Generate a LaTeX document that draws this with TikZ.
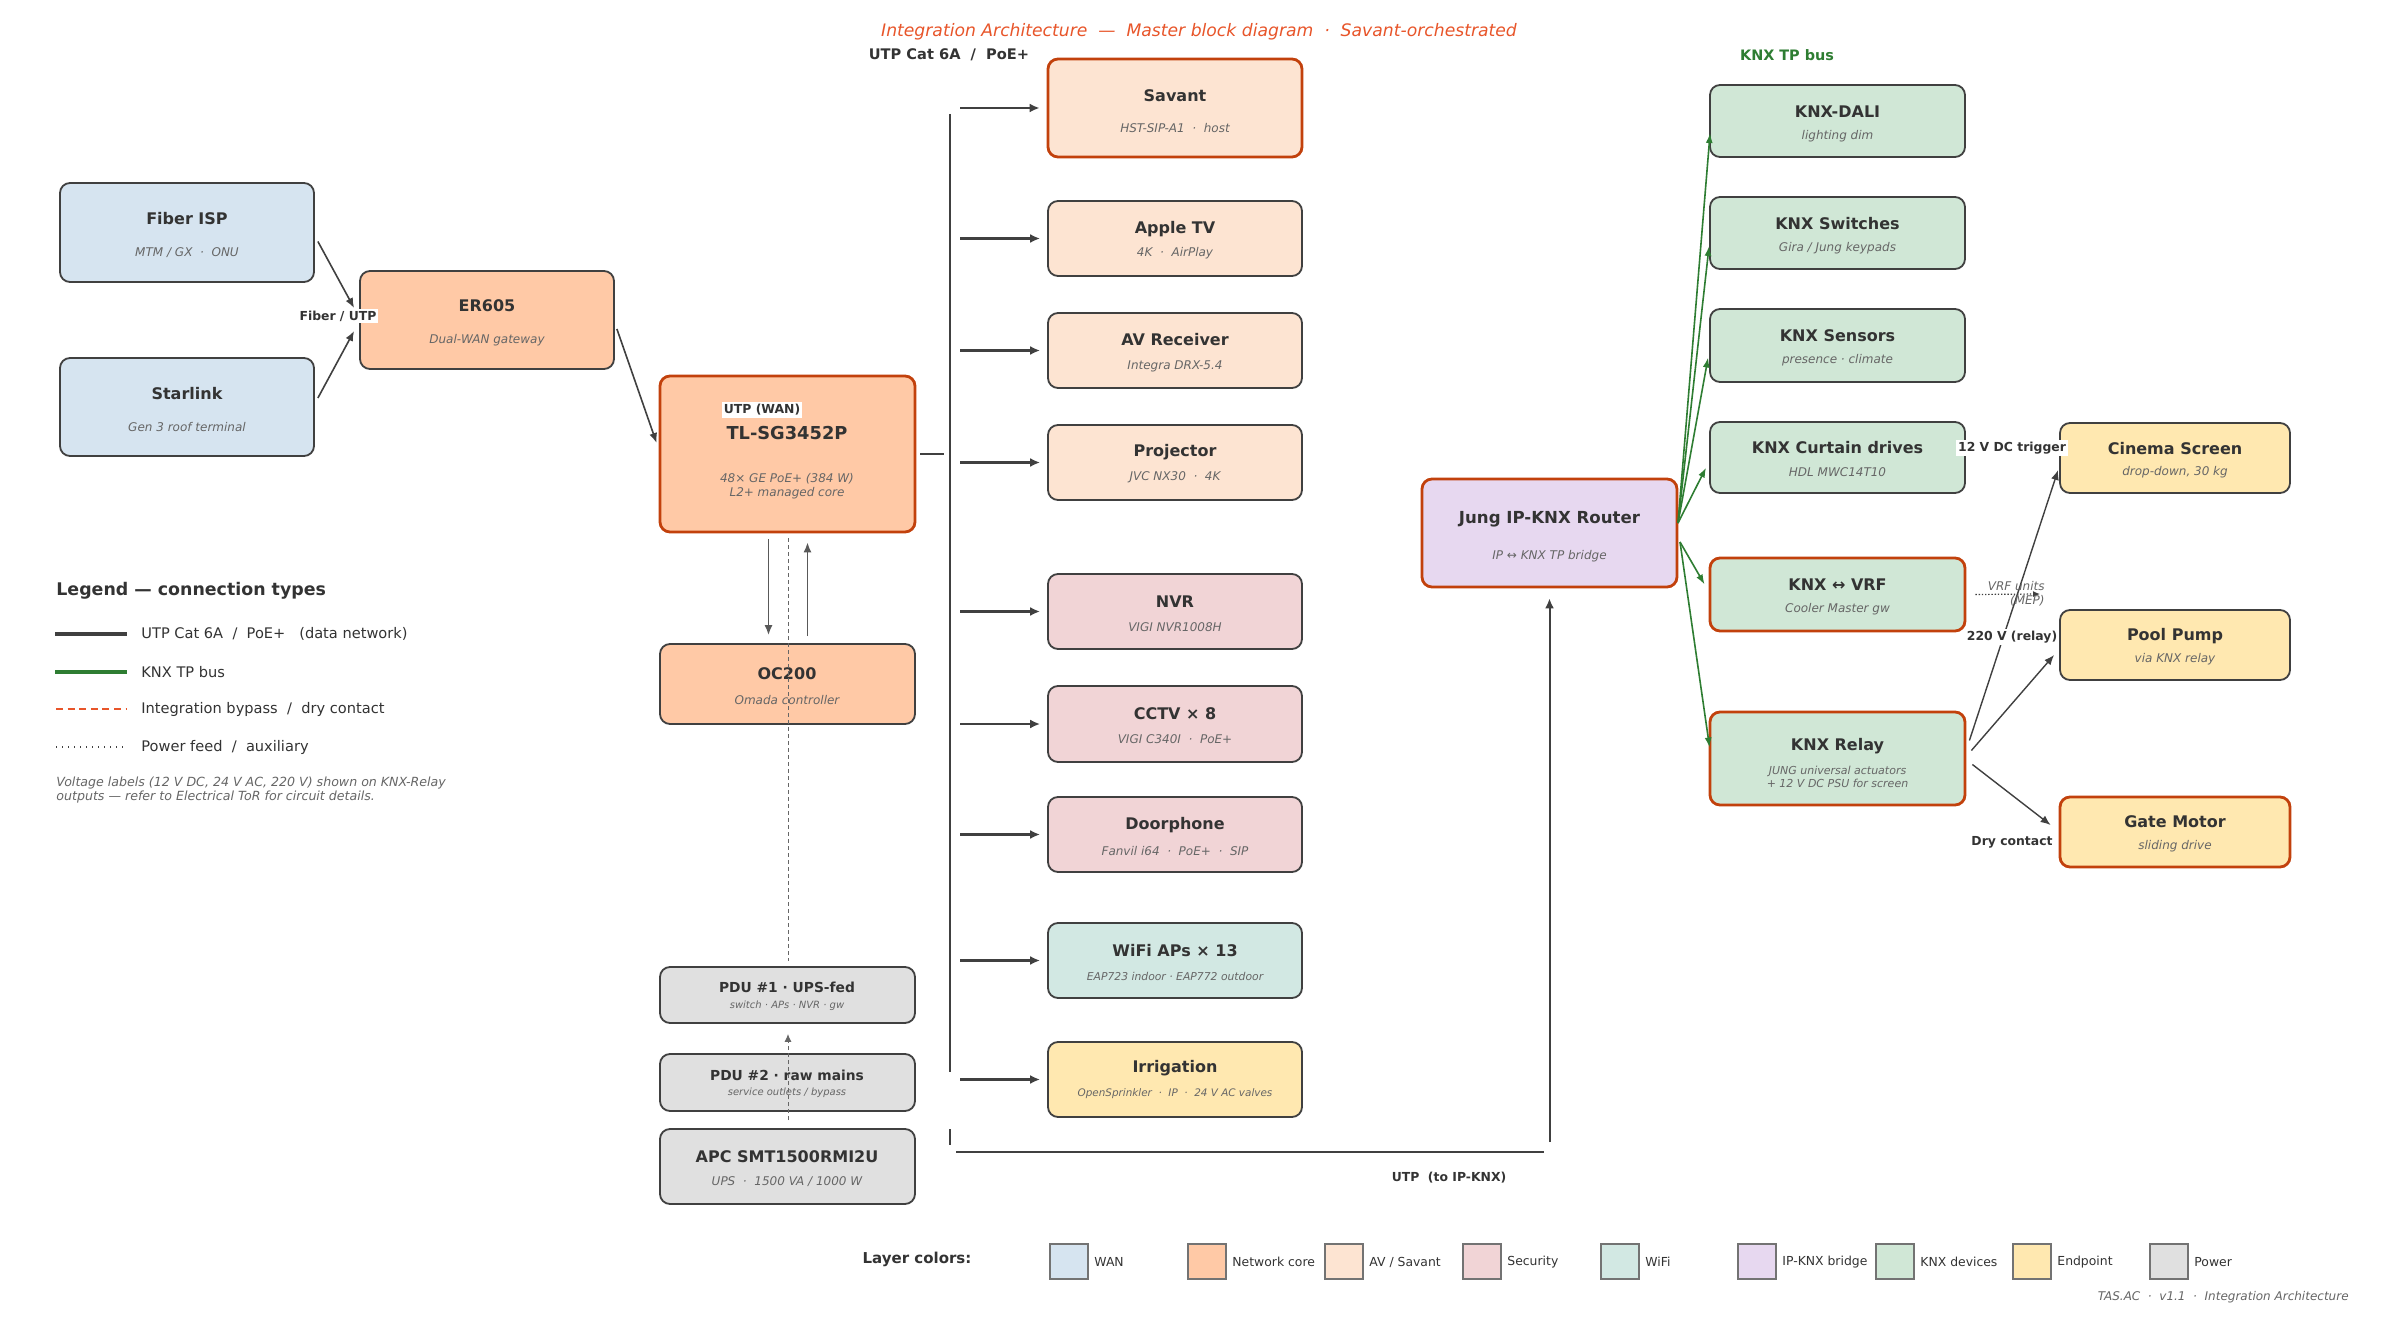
\documentclass[tikz,border=0pt]{standalone}
\usepackage{fontspec}
\setmainfont{DejaVu Sans}
\usetikzlibrary{arrows.meta}
\definecolor{edge}{HTML}{404040}
\definecolor{hotedge}{HTML}{C2410C}
\definecolor{txt}{HTML}{333333}
\definecolor{subtxt}{HTML}{666666}
\definecolor{titlec}{HTML}{E8552A}
\definecolor{knxg}{HTML}{2E7D32}
\definecolor{wan}{HTML}{D6E4F0}
\definecolor{core}{HTML}{FFC9A6}
\definecolor{av}{HTML}{FDE4D2}
\definecolor{sec}{HTML}{F1D4D6}
\definecolor{wifi}{HTML}{D2E8E3}
\definecolor{ipknx}{HTML}{E7D8F0}
\definecolor{knx}{HTML}{D0E7D6}
\definecolor{endp}{HTML}{FFE8B0}
\definecolor{pow}{HTML}{E0E0E0}
\newcommand\bx[7]{\node[box,fill=#2,#7,minimum width={(#5-#3)*0.5pt},minimum height={(#6-#4)*0.5pt}] (#1) at ({(#3+#5)/2},{(#4+#6)/2}) {};}
\newcommand\sep{\unskip\ \ ·\ \ \ignorespaces}
\newcommand\dsl{\unskip\ \ /\ \ \ignorespaces}
\begin{document}
\begin{tikzpicture}[x=0.5pt,y=-0.5pt,
  box/.style={draw=edge,line width=0.9pt,rounded corners=5pt,inner sep=0pt},
  hot/.style={draw=hotedge,line width=1.4pt},
  ttl/.style={font=\bfseries\fontsize{8}{9.6}\selectfont,text=txt,inner sep=0pt},
  ttls/.style={font=\bfseries\fontsize{6.9}{8.2}\selectfont,text=txt,inner sep=0pt},
  sub/.style={font=\itshape\fontsize{6}{7}\selectfont,text=subtxt,inner sep=0pt,align=center},
  subs/.style={font=\itshape\fontsize{5}{6}\selectfont,text=subtxt,inner sep=0pt},
  elab/.style={font=\bfseries\fontsize{6.2}{7.4}\selectfont,text=txt,fill=white,inner sep=1pt},
  net/.style={draw=edge,line width=1.2pt},
  netarr/.style={net,-{Latex[length=5pt,width=4.5pt]},shorten >=3.5pt},
  darr/.style={draw=edge,line width=0.8pt,-{Latex[length=5pt,width=4pt]}},
  garr/.style={draw=knxg,line width=0.8pt,-{Latex[length=5pt,width=3.5pt]}},
  leg/.style={font=\fontsize{7.3}{8.8}\selectfont,text=txt,anchor=west,inner sep=0pt},
  swatch/.style={draw=black!55,line width=0.6pt,minimum width=19pt,minimum height=17.5pt,inner sep=0pt},
  swl/.style={font=\fontsize{6.2}{7.4}\selectfont,text=txt,anchor=west,inner sep=0pt}]
\useasboundingbox[fill=white] (0,0) rectangle (2400,1326);

% title and headers
\node[font=\itshape\fontsize{8.6}{10.3}\selectfont,text=titlec] (title) at (1199,32) {Integration Architecture\ \ —\ \ Master block diagram \sep Savant-orchestrated};
\node[font=\bfseries\fontsize{7.3}{8.8}\selectfont,text=txt] (hdrutp) at (949,55) {UTP Cat 6A \dsl PoE+};
\node[font=\bfseries\fontsize{7.2}{8.6}\selectfont,text=knxg] (hdrknx) at (1787,55) {KNX TP bus};

% WAN + core
\bx{fiber}{wan}{60}{183}{314}{282}{}
\node[ttl] (fiberT) at (187,219) {Fiber ISP};
\node[sub] (fiberS) at (187,253) {MTM / GX \sep ONU};
\bx{star}{wan}{60}{358}{314}{456}{}
\node[ttl] (starT) at (187,394) {Starlink};
\node[sub] (starS) at (187,427) {Gen 3 roof terminal};
\bx{er}{core}{360}{271}{614}{369}{}
\node[ttl] (erT) at (487,306) {ER605};
\node[sub] (erS) at (487,340) {Dual-WAN gateway};
\bx{sw}{core}{660}{376}{915}{532}{hot}
\node[ttl,font=\bfseries\fontsize{8.9}{10.6}\selectfont] (swT) at (787,433) {TL-SG3452P};
\node[sub] (swS) at (787,486) {48× GE PoE+ (384 W)\\L2+ managed core};
\bx{oc}{core}{660}{644}{915}{724}{}
\node[ttl] (ocT) at (787,674) {OC200};
\node[sub] (ocS) at (787,700) {Omada controller};
\bx{pdua}{pow}{660}{967}{915}{1023}{}
\node[ttls] (pduaT) at (787,987) {PDU \#1 · UPS-fed};
\node[subs] (pduaS) at (787,1006) {switch · APs · NVR · gw};
\bx{pdub}{pow}{660}{1054}{915}{1111}{}
\node[ttls] (pdubT) at (787,1075) {PDU \#2 · raw mains};
\node[subs] (pdubS) at (787,1093) {service outlets / bypass};
\bx{apc}{pow}{660}{1129}{915}{1204}{}
\node[ttl] (apcT) at (787,1157) {APC SMT1500RMI2U};
\node[sub] (apcS) at (787,1182) {UPS \sep 1500 VA / 1000 W};

% AV / security / wifi column
\bx{savant}{av}{1048}{59}{1302}{157}{hot}
\node[ttl] at (1175,96) (savantT) {Savant};
\node[sub] at (1175,128) (savantS) {HST-SIP-A1 \sep host};
\bx{atv}{av}{1048}{201}{1302}{276}{}
\node[ttl] at (1175,229) (atvT) {Apple TV};
\node[sub] at (1175,253) (atvS) {4K \sep AirPlay};
\bx{avr}{av}{1048}{313}{1302}{388}{}
\node[ttl] at (1175,340) (avrT) {AV Receiver};
\node[sub] at (1175,366) (avrS) {Integra DRX-5.4};
\bx{proj}{av}{1048}{425}{1302}{500}{}
\node[ttl] at (1175,452) (projT) {Projector};
\node[sub] at (1175,477) (projS) {JVC NX30 \sep 4K};
\bx{nvr}{sec}{1048}{574}{1302}{649}{}
\node[ttl] at (1175,602) (nvrT) {NVR};
\node[sub] at (1175,627) (nvrS) {VIGI NVR1008H};
\bx{cctv}{sec}{1048}{686}{1302}{762}{}
\node[ttl] at (1175,714) (cctvT) {CCTV × 8};
\node[sub] at (1175,739) (cctvS) {VIGI C340I \sep PoE+};
\bx{door}{sec}{1048}{797}{1302}{872}{}
\node[ttl] at (1175,825) (doorT) {Doorphone};
\node[sub] at (1175,851) (doorS) {Fanvil i64 \sep PoE+ \sep SIP};
\bx{wifi}{wifi}{1048}{923}{1302}{998}{}
\node[ttl] at (1175,951) (wifiT) {WiFi APs × 13};
\node[sub,font=\itshape\fontsize{5.4}{6.4}\selectfont] at (1175,976) (wifiS) {EAP723 indoor · EAP772 outdoor};
\bx{irr}{endp}{1048}{1042}{1302}{1117}{}
\node[ttl] at (1175,1068) (irrT) {Irrigation};
\node[sub,font=\itshape\fontsize{5.2}{6.2}\selectfont] at (1175,1094) (irrS) {OpenSprinkler \sep IP \sep 24 V AC valves};

% router
\bx{router}{ipknx}{1422}{479}{1677}{587}{hot}
\node[ttl,font=\bfseries\fontsize{8.3}{10}\selectfont] at (1549.5,519) (routerT) {Jung IP-KNX Router};
\node[sub] at (1549.5,556) (routerS) {IP ↔ KNX TP bridge};

% KNX column
\bx{dali}{knx}{1710}{85}{1965}{157}{}
\node[ttl] at (1837.5,112) (daliT) {KNX-DALI};
\node[sub] at (1837.5,136) (daliS) {lighting dim};
\bx{ksw}{knx}{1710}{197}{1965}{269}{}
\node[ttl] at (1837.5,224) (kswT) {KNX Switches};
\node[sub] at (1837.5,248) (kswS) {Gira / Jung keypads};
\bx{ksen}{knx}{1710}{309}{1965}{382}{}
\node[ttl] at (1837.5,336) (ksenT) {KNX Sensors};
\node[sub] at (1837.5,360) (ksenS) {presence · climate};
\bx{kcur}{knx}{1710}{422}{1965}{493}{}
\node[ttl] at (1837.5,448) (kcurT) {KNX Curtain drives};
\node[sub] at (1837.5,472) (kcurS) {HDL MWC14T10};
\bx{kvrf}{knx}{1710}{558}{1965}{631}{hot}
\node[ttl] at (1837.5,585) (kvrfT) {KNX ↔ VRF};
\node[sub] at (1837.5,609) (kvrfS) {Cooler Master gw};
\bx{krel}{knx}{1710}{712}{1965}{805}{hot}
\node[ttl] at (1837.5,746) (krelT) {KNX Relay};
\node[sub,font=\itshape\fontsize{5.5}{6.2}\selectfont] at (1837.5,777) (krelS) {JUNG universal actuators\\+ 12 V DC PSU for screen};

% endpoints
\bx{cin}{endp}{2060}{423}{2290}{493}{}
\node[ttl] at (2175,449) (cinT) {Cinema Screen};
\node[sub] at (2175,472) (cinS) {drop-down, 30 kg};
\bx{pool}{endp}{2060}{610}{2290}{680}{}
\node[ttl] at (2175,636) (poolT) {Pool Pump};
\node[sub] at (2175,659) (poolS) {via KNX relay};
\bx{gate}{endp}{2060}{797}{2290}{867}{hot}
\node[ttl] at (2175,822) (gateT) {Gate Motor};
\node[sub] at (2175,846) (gateS) {sliding drive};

% WAN connectors
\draw[darr] ([shift={(3,9)}]fiber.east) -- ([shift={(-5,-12)}]er.west);
\draw[darr] ([shift={(3,-9)}]star.east) -- ([shift={(-5,11)}]er.west);
\draw[darr] ([shift={(2,9)}]er.east) -- ([shift={(-2,-11)}]sw.west);
\node[elab] (fiberlab) at (338,316) {Fiber / UTP};
\node[elab] (wanlab) at (762,410) {UTP (WAN)};

% bus
\coordinate (busTop) at (950,114);
\coordinate (busBot) at (950,1072);
\coordinate (bus) at (960,0);
\draw[net] ([xshift=2pt]sw.east) -- ++(24,0);
\draw[net] (busTop) -- (busBot);
\foreach \n in {savant,atv,avr,proj,nvr,cctv,door,wifi,irr}
  \draw[netarr] (bus |- \n.west) -- (\n.west);

% bottom UTP to router
\coordinate (bA) at (950,1129);
\coordinate (bB) at (950,1145);
\coordinate (bC) at (956,1152);
\coordinate (bD) at (1544,1152);
\coordinate (bE) at (1549.5,1142);
\draw[net] (bA) -- (bB);
\draw[net] (bC) -- (bD);
\draw[net,-{Latex[length=5pt,width=4.5pt]},shorten >=5pt,line width=1pt] (bE) -- (router.south);
\node[font=\bfseries\fontsize{6.2}{7.4}\selectfont,text=txt] (knxlab) at (1449,1178) {UTP\ \ (to IP-KNX)};

% switch <-> OC200
\draw[draw=black!65,line width=0.8pt,-{Latex[length=5pt,width=4pt]}] ([shift={(-19,6)}]sw.south) -- ([shift={(-19,-8)}]oc.north);
\draw[draw=black!65,line width=0.8pt,-{Latex[length=5pt,width=4pt]}] ([shift={(20,-7)}]oc.north) -- ([shift={(20,9)}]sw.south);
% power feed
\draw[draw=black!60,line width=0.5pt,dash pattern=on 2pt off 1.5pt] ([shift={(0.5,5)}]sw.south) -- ([shift={(0.5,-5)}]pdua.north);
\draw[draw=black!60,line width=0.5pt,dash pattern=on 2pt off 1.5pt,-{Latex[length=4pt,width=3.5pt]}] ([shift={(0.5,-8)}]apc.north) -- ([shift={(0.5,10)}]pdua.south);

% KNX green bus
\coordinate (rA) at (1678,523);
\coordinate (rB) at (1680,542);
\draw[garr] (rA) -- ([shift={(1,12)}]dali.west);
\draw[garr] (rA) -- ([shift={(0,13)}]ksw.west);
\draw[garr] (rA) -- ([shift={(-1,12)}]ksen.west);
\draw[garr] (rA) -- ([shift={(-3,10)}]kcur.west);
\draw[garr] (rB) -- ([shift={(-4,-10)}]kvrf.west);
\draw[garr] (rB) -- ([shift={(1,-11)}]krel.west);

% relay outputs
\draw[darr,line width=0.7pt] ([shift={(3,-18)}]krel.east) -- ([shift={(-1,12)}]cin.west);
\draw[darr,line width=0.7pt] ([shift={(5,-8)}]krel.east) -- ([shift={(-5,10)}]pool.west);
\draw[darr,line width=0.7pt] ([shift={(6,6)}]krel.east) -- ([shift={(-8,-7)}]gate.west);
\node[elab] (l12) at (2012,448) {12 V DC trigger};
\node[elab] (l220) at (2012,637) {220 V (relay)};
\node[elab] (ldry) at (2012,842) {Dry contact};

% VRF units
\coordinate (vrfEnd) at (2040,594);
\draw[draw=edge,line width=0.6pt,dash pattern=on 0.7pt off 0.9pt,-{Latex[length=3.5pt,width=3pt]}] ([xshift=4.5pt]kvrf.east) -- (vrfEnd);
\node[font=\itshape\fontsize{6}{7}\selectfont,text=subtxt,align=right,anchor=east,inner sep=0pt] (vrflab) at (2045,594) {VRF units\\(MEP)};

% legend
\node[font=\bfseries\fontsize{8.7}{10.4}\selectfont,text=txt,anchor=west,inner sep=0pt] (legT) at (56,591) {Legend — connection types};
\coordinate (lg1a) at (55,634); \coordinate (lg1b) at (127,634);
\coordinate (lg2a) at (55,672); \coordinate (lg2b) at (127,672);
\coordinate (lg3a) at (56,709); \coordinate (lg3b) at (127,709);
\coordinate (lg4a) at (56,747); \coordinate (lg4b) at (127,747);
\draw[draw=edge,line width=1.6pt] (lg1a) -- (lg1b);
\draw[draw=knxg,line width=1.6pt] (lg2a) -- (lg2b);
\draw[draw=titlec,line width=1.2pt,dash pattern=on 3.5pt off 2.3pt] (lg3a) -- (lg3b);
\draw[draw=edge,line width=0.9pt,dash pattern=on 0.6pt off 2.4pt] (lg4a) -- (lg4b);
\node[leg] (lt1) at (141,634) {UTP Cat 6A \dsl PoE+\ \ \ (data network)};
\node[leg] (lt2) at (141,672) {KNX TP bus};
\node[leg] (lt3) at (141,709) {Integration bypass \dsl dry contact};
\node[leg] (lt4) at (141,747) {Power feed \dsl auxiliary};
\node[font=\itshape\fontsize{6.3}{7}\selectfont,text=subtxt,anchor=north west,align=left,inner sep=0pt] (lnote) at (56,777) {Voltage labels (12 V DC, 24 V AC, 220 V) shown on KNX-Relay\\outputs — refer to Electrical ToR for circuit details.};

% layer colours
\node[font=\bfseries\fontsize{7.5}{9}\selectfont,text=txt] (layT) at (917,1259) {Layer colors:};
\foreach \x/\c/\t/\i in {1050/wan/{WAN}/1,1188/core/{Network core}/2,1325/av/{AV / Savant}/3,1463/sec/{Security}/4,1601/wifi/{WiFi}/5,1738/ipknx/{IP-KNX bridge}/6,1876/knx/{KNX devices}/7,2013/endp/{Endpoint}/8,2150/pow/{Power}/9}{
  \node[swatch,fill=\c] (lc\i) at (\x+19,1261.5) {};
  \node[swl] (lcl\i) at (\x+44,1262) {\t};
}
\node[font=\itshape\fontsize{6}{7.2}\selectfont,text=subtxt,anchor=east,inner sep=0pt] (footer) at (2349,1297) {TAS.AC \sep v1.1 \sep Integration Architecture};
\end{tikzpicture}
\end{document}
